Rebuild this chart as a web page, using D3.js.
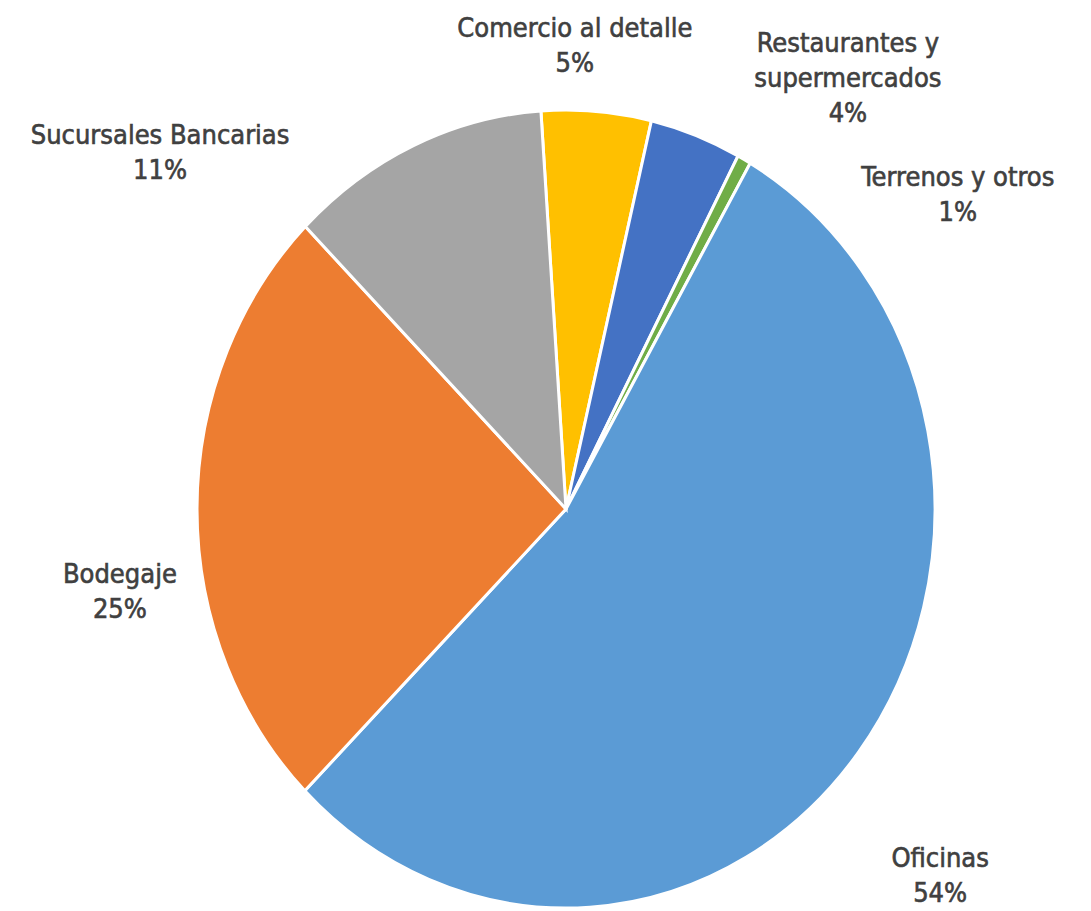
<!DOCTYPE html>
<html>
<head>
<meta charset="utf-8">
<script src="https://cdn.jsdelivr.net/npm/d3@7"></script>
<style>
  body { margin: 0; background: #fff; }
  text { font-family: "DejaVu Sans Condensed", "DejaVu Sans", sans-serif; fill: #404040; }
</style>
</head>
<body>
<div id="chart"></div>
<script>
// categorías y porcentajes
const categories = ["Comercio al detalle", "Restaurantes y supermercados", "Terrenos y otros", "Oficinas", "Bodegaje", "Sucursales Bancarias"];
const values = [4.8, 4.0, 0.6, 54.2, 25.0, 11.4];
const colors = ["#FFC000", "#4472C4", "#70AD47", "#5B9BD5", "#ED7D31", "#A5A5A5"];
// líneas de cada etiqueta
const labelLines = [["Comercio al detalle"], ["Restaurantes y", "supermercados"], ["Terrenos y otros"], ["Oficinas"], ["Bodegaje"], ["Sucursales Bancarias"]];

const width = 1091, height = 911;
const cx = 566, cy = 509;
const rx = 369, ry = 399;

// posición de etiquetas en unidades del radio horizontal (centro del bloque)
const labelPos = [[0.024, -1.257], [0.764, -1.168], [1.062, -0.854], [1.014, 0.992], [-1.209, 0.222], [-1.10, -0.967]];

const svg = d3.select("#chart").append("svg")
    .attr("width", width)
    .attr("height", height);

const data = categories.map((c, i) => ({category: c, value: values[i], color: colors[i], lines: labelLines[i], pos: labelPos[i]}));
const total = d3.sum(values);

const pie = d3.pie()
    .sort(null)
    .value(d => d.value)
    .startAngle(-3.9 * Math.PI / 180)
    .endAngle(2 * Math.PI - 3.9 * Math.PI / 180);

const arc = d3.arc().innerRadius(0).outerRadius(rx);

// el gráfico original está estirado verticalmente
const g = svg.append("g")
    .attr("transform", `translate(${cx},${cy}) scale(1,${ry / rx})`);

g.selectAll("path")
    .data(pie(data))
    .enter()
    .append("path")
    .attr("d", arc)
    .attr("fill", d => d.data.color)
    .attr("stroke", "white")
    .attr("stroke-width", 3)
    .attr("vector-effect", "non-scaling-stroke");

const fontSize = 27, lineH = 35;
const labels = svg.append("g")
    .selectAll("text")
    .data(data)
    .enter()
    .append("text")
    .attr("text-anchor", "middle")
    .style("font-size", fontSize + "px")
    .style("stroke", "#404040")
    .style("stroke-width", 0.6);

labels.each(function(d) {
    const lines = d.lines.concat([Math.round(d.value / total * 100) + "%"]);
    const x = cx + d.pos[0] * rx;
    const y0 = cy + d.pos[1] * rx - (lines.length - 1) * lineH / 2;
    const t = d3.select(this);
    lines.forEach((l, i) => {
        t.append("tspan")
            .attr("x", x)
            .attr("y", y0 + i * lineH)
            .attr("dy", "0.35em")
            .text(l);
    });
});
</script>
</body>
</html>
